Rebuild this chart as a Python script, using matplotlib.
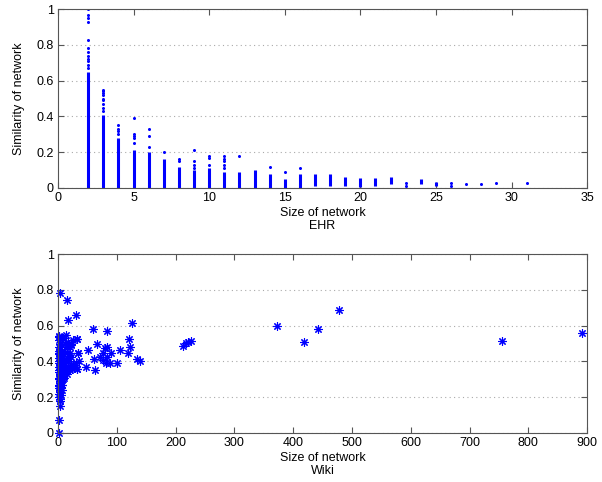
import matplotlib.pyplot as plt

plt.rcParams["font.family"] = ["Liberation Sans", "DejaVu Sans"]
plt.rcParams["font.size"] = 9

BLUE = (0.0, 0.0, 1.0)
SPINE = "#555555"

# EHR: solid runs of points per network size (bottom, top) plus the sparse points above
ehr_sizes = [2, 3, 4, 5, 6, 7, 8, 9, 10, 11, 12, 13, 14, 15, 16, 17, 18, 19, 20, 21, 22, 24, 25]
ehr_run_bottom = [0, 0, 0, 0, 0, 0, 0, 0, 0, 0, 0, 0, 0, 0, 0, 0.01, 0.01, 0.01, 0.005, 0.01, 0.02, 0.02, 0.01]
ehr_run_top = [0.65, 0.41, 0.28, 0.21, 0.20, 0.16, 0.12, 0.10, 0.11, 0.09, 0.09, 0.10, 0.08, 0.05, 0.08,
               0.08, 0.08, 0.06, 0.055, 0.055, 0.06, 0.05, 0.035]
ehr_extra_x = [2, 2, 2, 2, 2, 2, 2, 2, 2, 2, 2, 2,
               3, 3, 3, 3, 3, 3, 3, 3, 3,
               4, 4, 4, 4,
               5, 5, 5, 5, 5,
               6, 6, 6,
               7, 8, 8,
               9, 9, 9, 9,
               10, 10, 10,
               11, 11, 11, 11, 11,
               12, 14, 15, 16,
               23, 23, 26, 26, 27, 28, 29, 31]
ehr_extra_y = [0.67, 0.69, 0.71, 0.72, 0.74, 0.76, 0.78, 0.83, 0.93, 0.95, 0.97, 1.0,
               0.43, 0.45, 0.47, 0.49, 0.50, 0.52, 0.53, 0.54, 0.55,
               0.30, 0.32, 0.33, 0.35,
               0.25, 0.28, 0.29, 0.30, 0.39,
               0.23, 0.29, 0.33,
               0.20, 0.15, 0.16,
               0.11, 0.13, 0.15, 0.21,
               0.13, 0.17, 0.18,
               0.11, 0.13, 0.15, 0.16, 0.18,
               0.18, 0.12, 0.09, 0.11,
               0.01, 0.03, 0.01, 0.03, 0.02, 0.02, 0.03, 0.03]

# Wiki: one point per network
wiki_x = [1, 2, 3, 4, 2, 5, 1, 3, 6, 2, 4, 1, 7, 3, 5, 2, 8, 1, 4, 6,
          3, 9, 1, 5, 2, 7, 10, 4, 12, 1, 6, 3, 8, 14, 2, 5, 11, 1, 4, 7,
          9, 2, 6, 13, 3, 1, 5, 8, 2, 4, 10, 1, 6, 3, 12, 2, 7, 1.5, 9, 4,
          6, 8, 10, 11, 15, 16, 18, 20, 22, 24, 26, 28, 30, 33, 35, 17, 19, 21, 16, 18,
          23, 25, 13, 3, 4, 2, 5, 6, 3, 2,
          1.7, 9, 17.5, 20.4, 31.8, 14.7, 34.5, 22, 29, 20, 32, 33.5, 33,
          3.4, 14.7, 30.6, 17.5, 59, 83, 126, 66, 121, 122, 118.5, 105, 101, 134, 139.5,
          51.5, 62, 63, 47.6, 71.5, 77, 80, 84, 83, 88, 81.7, 77, 90, 23,
          212, 218, 221.7, 226, 373, 419, 442, 477.5, 756, 891]
wiki_y = [0.00, 0.07, 0.15, 0.18, 0.20, 0.21, 0.22, 0.23, 0.24, 0.25, 0.26, 0.27, 0.27, 0.28, 0.29, 0.30, 0.30, 0.31, 0.31, 0.32,
          0.33, 0.33, 0.34, 0.34, 0.35, 0.35, 0.35, 0.36, 0.36, 0.37, 0.37, 0.38, 0.38, 0.37, 0.39, 0.39, 0.39, 0.40, 0.40, 0.41,
          0.40, 0.42, 0.42, 0.41, 0.43, 0.44, 0.44, 0.44, 0.46, 0.47, 0.46, 0.48, 0.49, 0.50, 0.50, 0.52, 0.53, 0.54, 0.53, 0.29,
          0.27, 0.33, 0.31, 0.34, 0.33, 0.35, 0.36, 0.37, 0.38, 0.36, 0.38, 0.37, 0.39, 0.36, 0.40, 0.40, 0.43, 0.45, 0.48, 0.50,
          0.49, 0.52, 0.55, 0.19, 0.24, 0.26, 0.32, 0.36, 0.41, 0.45,
          0.538, 0.529, 0.51, 0.48, 0.523, 0.445, 0.445, 0.426, 0.38, 0.352, 0.36, 0.445, 0.523,
          0.78, 0.745, 0.66, 0.63, 0.579, 0.571, 0.613, 0.50, 0.525, 0.482, 0.449, 0.464, 0.393, 0.415, 0.404,
          0.464, 0.415, 0.352, 0.37, 0.426, 0.445, 0.473, 0.479, 0.423, 0.389, 0.389, 0.41, 0.445, 0.50,
          0.486, 0.505, 0.51, 0.516, 0.598, 0.51, 0.581, 0.687, 0.512, 0.56]


def style_axes(ax):
    for spine in ax.spines.values():
        spine.set_color(SPINE)
        spine.set_linewidth(0.8)
    ax.tick_params(direction="in", top=True, right=True, length=4, width=0.8,
                   color=SPINE, labelsize=9, pad=3)
    ax.yaxis.grid(True, linestyle=(0, (1, 3)), color="#aaaaaa", linewidth=0.8)
    ax.set_axisbelow(True)
    ax.set_ylim(0, 1)
    ax.set_yticks([0, 0.2, 0.4, 0.6, 0.8, 1])
    ax.set_yticklabels(["0", "0.2", "0.4", "0.6", "0.8", "1"])
    ax.set_ylabel("Similarity of network", labelpad=8)


fig = plt.figure(figsize=(6.02, 4.82), dpi=100)

ax1 = fig.add_axes([0.0963, 0.610, 0.879, 0.371])
ax1.vlines(ehr_sizes, ehr_run_bottom, ehr_run_top, color=BLUE, linewidth=2.2)
ax1.plot(ehr_extra_x, ehr_extra_y, linestyle="none", marker="o", markersize=2.2,
         color=BLUE, markeredgewidth=0)
ax1.set_xlim(0, 35)
ax1.set_xticks(range(0, 36, 5))
ax1.set_xlabel("Size of network\nEHR", linespacing=1.1, labelpad=2)
style_axes(ax1)

ax2 = fig.add_axes([0.0963, 0.1017, 0.879, 0.371])
ax2.plot(wiki_x, wiki_y, linestyle="none", marker=(8, 2, 0), markersize=6,
         color=BLUE, markeredgewidth=0.8, clip_on=False)
ax2.set_xlim(0, 900)
ax2.set_xticks(range(0, 901, 100))
ax2.set_xlabel("Size of network\nWiki", linespacing=1.1, labelpad=2)
style_axes(ax2)

fig.savefig("out.png", dpi=100)
